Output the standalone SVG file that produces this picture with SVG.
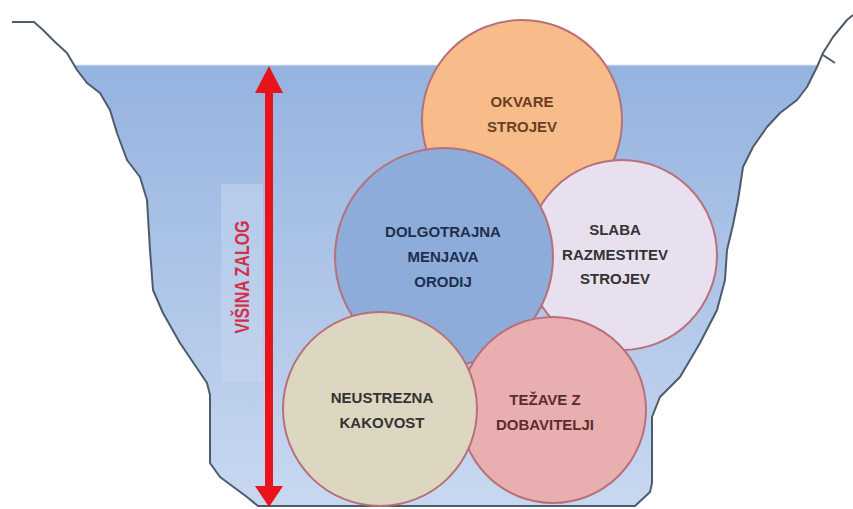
<svg xmlns="http://www.w3.org/2000/svg" width="853" height="509" viewBox="0 0 853 509">
<defs>
<linearGradient id="water" x1="0" y1="0" x2="0" y2="1">
<stop offset="0" stop-color="#95b3e0"/>
<stop offset="1" stop-color="#c8d8f0"/>
</linearGradient>
<style>
.bank{fill:none;stroke:#4d5c6c;stroke-width:2;stroke-linejoin:round}
.c{stroke:#b8707a;stroke-width:2}
.t{font-family:"Liberation Sans",Arial,sans-serif;font-weight:bold;font-size:15px;text-anchor:middle}
.arrow{fill:#e8141c}
</style>
</defs>
<rect width="853" height="509" fill="#ffffff"/>
<path d="M74,65 L77,70 L87,83 L100,93 L110,110 L117,133 L127,160 L140,177 L147,200 L150,250 L153,290 L163,313 L180,343 L207,383 L210,395 L210,463 L220,477 L247,497 L258,506 L635,506 L650,492 L652,483 L652,417 L660,397 L680,377 L700,343 L717,310 L725,280 L727,250 L733,225 L738,200 L740,187 L743,167 L753,147 L767,127 L780,113 L797,100 L807,87 L817,67 L818,65 Z" fill="url(#water)"/>
<line x1="74" y1="65" x2="818" y2="65" stroke="#dfe8f5" stroke-width="1"/>
<rect x="221" y="184" width="42" height="198" fill="#c6d5ee" opacity="0.55"/>
<path class="bank" d="M12,22 L34,22 L43,30 L55,42 L67,53 L77,70 L87,83 L100,93 L110,110 L117,133 L127,160 L140,177 L147,200 L150,250 L153,290 L163,313 L180,343 L207,383 L210,395 L210,463 L220,477 L247,497 L258,506 L635,506 L650,492 L652,483 L652,417 L660,397 L680,377 L700,343 L717,310 L725,280 L727,250 L733,225 L738,200 L740,187 L743,167 L753,147 L767,127 L780,113 L797,100 L807,87 L817,67 L823,53 L833,37 L847,20 L853,15"/>
<path class="bank" d="M823,55 L835,63"/>
<g id="okvare">
<circle class="c" cx="522" cy="120" r="100" fill="#f8bc8b"/>
<text class="t" fill="#6a3f22"><tspan x="522" y="107">OKVARE</tspan><tspan x="522" y="132">STROJEV</tspan></text>
</g>
<g id="slaba">
<circle class="c" cx="622" cy="255" r="95" fill="#e8e0ee"/>
<text class="t" fill="#333333"><tspan x="615" y="235">SLABA</tspan><tspan x="615" y="260">RAZMESTITEV</tspan><tspan x="615" y="284">STROJEV</tspan></text>
</g>
<g id="dolgotrajna">
<circle class="c" cx="444" cy="257" r="109" fill="#8eacd9"/>
<text class="t" fill="#1e2f4e"><tspan x="443" y="237">DOLGOTRAJNA</tspan><tspan x="443" y="262">MENJAVA</tspan><tspan x="443" y="287">ORODIJ</tspan></text>
</g>
<g id="tezave">
<circle class="c" cx="553" cy="410" r="93" fill="#e9afb0"/>
<text class="t" fill="#5b2c2c"><tspan x="545" y="405">TEŽAVE Z</tspan><tspan x="545" y="430">DOBAVITELJI</tspan></text>
</g>
<g id="neustrezna">
<circle class="c" cx="380" cy="409" r="97" fill="#ddd6c0"/>
<text class="t" fill="#333333"><tspan x="382" y="403">NEUSTREZNA</tspan><tspan x="382" y="428">KAKOVOST</tspan></text>
</g>
<g id="connectors">
<rect class="arrow" x="265" y="90" width="8" height="399"/>
<polygon class="arrow" points="269,66 255,93 283,93"/>
<polygon class="arrow" points="269,507 255,486 283,486"/>
</g>
<text x="0" y="0" transform="translate(249,277) rotate(-90)" font-family="'Liberation Sans',Arial,sans-serif" font-weight="bold" font-size="20" fill="#d22f48" text-anchor="middle" textLength="113" lengthAdjust="spacingAndGlyphs">VIŠINA ZALOG</text>
</svg>
